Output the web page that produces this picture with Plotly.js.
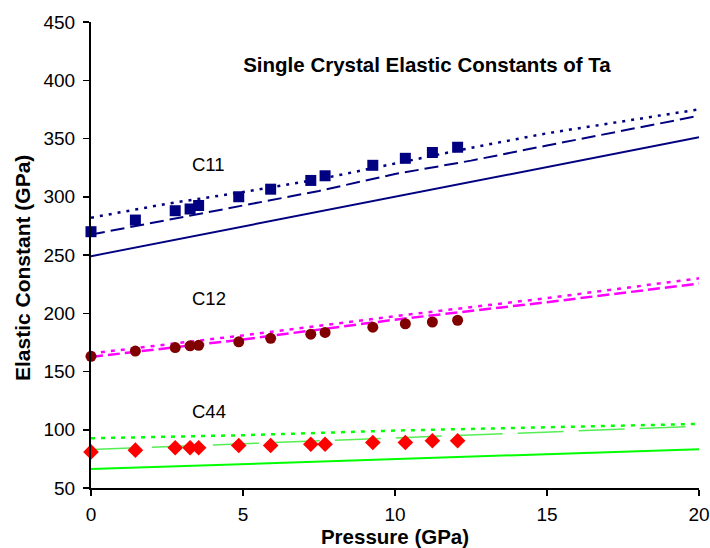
<!DOCTYPE html>
<html>
<head>
<meta charset="utf-8">
<script src="https://cdn.plot.ly/plotly-3.0.1.min.js"></script>
<style>
  html, body { margin: 0; padding: 0; background: #fff; }
  #chart { width: 710px; height: 548px; }
</style>
</head>
<body>
<div id="chart"></div>
<script>
// Measured pressures (GPa) and single-crystal elastic constants (GPa)
const pressure = [0, 1.46, 2.77, 3.26, 3.54, 4.86, 5.91, 7.23, 7.70, 9.27, 10.34, 11.23, 12.06];
const c11Meas = [270, 280, 288, 289.5, 292.5, 300, 306.5, 314, 318, 327, 333, 338, 342.5];
const c12Meas = [163, 167.5, 170.5, 172, 172.5, 175.5, 178.5, 182, 183.5, 188, 191, 192.5, 194];
const c44Meas = [81, 82.5, 84.5, 84.5, 84.5, 86.5, 86.5, 87.5, 87.5, 89, 89, 90.5, 90.5];

// Calculated curves
const pFine = [0, 2.5, 5, 7.5, 10, 12.5, 15, 17.5, 20];
const pCoarse = [0, 5, 10, 15, 20];
const c11Solid = [249, 274.5, 300, 325.5, 351];
const c11Dash = [267.5, 280, 292, 305, 319.5, 331, 344, 357, 369.5];
const c11Dot = [282, 294, 304, 315, 328.5, 342, 354.5, 364.5, 375];
const c12Dash = [162.5, 177.5, 194.5, 209.5, 225.5];
const c12Dot = [165.5, 181, 197.5, 213, 230];
const c44Solid = [66.3, 70.5, 74.8, 79, 83.3];
const c44Dash = [83, 88, 92.5, 97.5, 103];
const c44Dot = [92.7, 95.3, 99.3, 102, 105];

const xTicks = [0, 5, 10, 15, 20];
const yTicks = [50, 100, 150, 200, 250, 300, 350, 400, 450];

const navy = '#000080', magenta = '#FF00FF', lime = '#00FF00';

function line(x, y, color, width, dash) {
  return { x: x, y: y, mode: 'lines', type: 'scatter', hoverinfo: 'skip',
           line: { color: color, width: width, dash: dash } };
}
function pts(y, symbol, color, size) {
  return { x: pressure, y: y, mode: 'markers', type: 'scatter', cliponaxis: false,
           marker: { symbol: symbol, color: color, size: size } };
}

const traces = [
  line(pCoarse, c11Solid, navy, 2, 'solid'),
  line(pFine, c11Dash, navy, 2, '14px,6px'),
  line(pFine, c11Dot, navy, 2.5, '3px,6px'),
  line(pCoarse, c12Dash, magenta, 2.5, '12px,5px'),
  line(pCoarse, c12Dot, magenta, 2.5, '4px,6px'),
  line(pCoarse, c44Solid, lime, 2, 'solid'),
  line(pCoarse, c44Dash, '#55EE55', 1.5, '46px,15px'),
  line(pCoarse, c44Dot, lime, 2.5, '4px,6px'),
  pts(c11Meas, 'square', navy, 11),
  pts(c12Meas, 'circle', '#800000', 11),
  pts(c44Meas, 'diamond', '#FF0000', 12)
];

const font = 'Liberation Sans, Arial, sans-serif';

const layout = {
  width: 710, height: 548,
  margin: { l: 91, r: 11, t: 22, b: 60 },
  paper_bgcolor: '#fff', plot_bgcolor: '#fff',
  showlegend: false,
  font: { family: font, color: '#000', size: 19 },
  title: {
    text: '<b>Single Crystal Elastic Constants of Ta</b>',
    font: { family: font, size: 20.5, color: '#000' },
    xref: 'paper', x: 0.5526, xanchor: 'center',
    yref: 'container', y: 0.881, yanchor: 'middle'
  },
  xaxis: {
    range: [0, 20], tickvals: xTicks, ticktext: xTicks.map(String),
    showgrid: false, zeroline: false,
    showline: true, linecolor: '#000', linewidth: 2,
    ticks: 'outside', ticklen: 6, tickwidth: 1.5, tickcolor: '#000',
    ticklabelstandoff: 2,
    tickfont: { family: font, size: 19 },
    title: { text: '<b>Pressure (GPa)</b>', font: { family: font, size: 20.5 }, standoff: 0 }
  },
  yaxis: {
    range: [50, 450], tickvals: yTicks, ticktext: yTicks.map(String),
    showgrid: false, zeroline: false,
    showline: true, linecolor: '#000', linewidth: 2,
    ticks: 'outside', ticklen: 6, tickwidth: 1.5, tickcolor: '#000',
    ticklabelstandoff: 4,
    tickfont: { family: font, size: 19 }
  },
  annotations: [
    { x: 3.88, y: 327.6, text: 'C11' },
    { x: 3.88, y: 212.6, text: 'C12' },
    { x: 3.88, y: 115.5, text: 'C44' }
  ].map(a => Object.assign(a, { xref: 'x', yref: 'y', showarrow: false,
        xanchor: 'center', yanchor: 'middle', font: { family: font, size: 18.5, color: '#000' } }))
  .concat([{
    // vertical axis title
    text: '<b>Elastic Constant (GPa)</b>', textangle: -90, showarrow: false,
    xref: 'paper', yref: 'paper', x: -0.1135, y: 0.472,
    xanchor: 'center', yanchor: 'middle',
    font: { family: font, size: 21, color: '#000' }
  }])
};

Plotly.newPlot('chart', traces, layout, { displayModeBar: false, staticPlot: true });
</script>
</body>
</html>
